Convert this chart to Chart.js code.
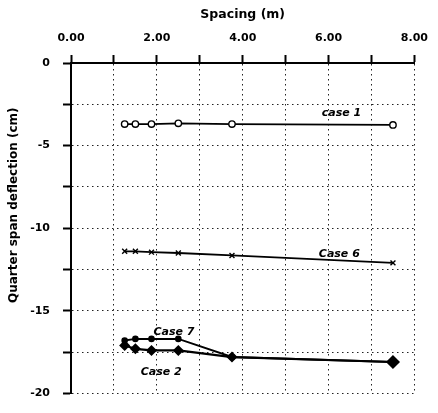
<!DOCTYPE html>
<html>
<head>
<meta charset="utf-8">
<script src="https://cdn.jsdelivr.net/npm/chart.js@4/dist/chart.umd.min.js"></script>
<style>
  html, body { margin: 0; padding: 0; background: #fff; }
  #wrap { width: 438px; height: 413px; }
</style>
</head>
<body>
<div id="wrap"><canvas id="chart"></canvas></div>
<script>
// spacing values (m)
const spacing = [1.25, 1.5, 1.875, 2.5, 3.75, 7.5];

// quarter span deflection (cm)
const case1 = [-3.7, -3.7, -3.7, -3.65, -3.7, -3.75];
const case6 = [-11.4, -11.4, -11.45, -11.5, -11.65, -12.1];
const case7 = [-16.8, -16.7, -16.7, -16.7, -17.8, -18.1];
const case2 = [-17.1, -17.3, -17.4, -17.4, -17.8, -18.1];

const caseNames = ['case 1', 'Case 6', 'Case 7', 'Case 2'];

// where the case names sit, in data units
const caseLabelPos = [
  { x: 6.3, y: -3.05 },
  { x: 6.25, y: -11.6 },
  { x: 2.4, y: -16.3 },
  { x: 2.1, y: -18.7 },
];

const toPoints = ys => spacing.map((x, i) => ({ x: x, y: ys[i] }));

// draws the case names next to their lines
const caseLabels = {
  id: 'caseLabels',
  afterDatasetsDraw(chart) {
    const { ctx, scales } = chart;
    ctx.save();
    ctx.fillStyle = '#000';
    ctx.font = 'italic bold 11px "DejaVu Sans"';
    ctx.textAlign = 'center';
    ctx.textBaseline = 'middle';
    caseNames.forEach((name, i) => {
      const p = caseLabelPos[i];
      ctx.fillText(name, scales.x.getPixelForValue(p.x), scales.y.getPixelForValue(p.y));
    });
    ctx.restore();
  },
};

const lineBase = {
  borderColor: '#000',
  backgroundColor: '#000',
  pointBorderColor: '#000',
  tension: 0,
  fill: false,
};

const config = {
  type: 'line',
  data: {
    datasets: [
      {
        ...lineBase,
        label: caseNames[0],
        data: toPoints(case1),
        borderWidth: 1.8,
        pointStyle: 'circle',
        pointRadius: 3.2,
        pointBackgroundColor: '#fff',
        pointBorderWidth: 1.4,
      },
      {
        ...lineBase,
        label: caseNames[1],
        data: toPoints(case6),
        borderWidth: 1.8,
        pointStyle: 'crossRot',
        pointRadius: 3.5,
        pointBorderWidth: 1.4,
      },
      {
        ...lineBase,
        label: caseNames[2],
        data: toPoints(case7),
        borderWidth: 2,
        pointStyle: 'circle',
        pointRadius: 2.3,
        pointBackgroundColor: '#000',
      },
      {
        ...lineBase,
        label: caseNames[3],
        data: toPoints(case2),
        borderWidth: 2.2,
        pointStyle: 'rectRot',
        pointRadius: [4, 4, 4, 4, 4, 5.5],
        pointBackgroundColor: '#000',
      },
    ],
  },
  options: {
    responsive: true,
    maintainAspectRatio: false,
    animation: false,
    layout: { padding: { left: 0, top: 0, right: 15, bottom: 8 } },
    plugins: {
      legend: { display: false },
      tooltip: { enabled: false },
    },
    scales: {
      x: {
        type: 'linear',
        position: 'top',
        min: 0,
        max: 8,
        afterFit: scale => { scale.height = 63; },
        title: {
          display: true,
          text: 'Spacing (m)',
          color: '#000',
          font: { family: 'DejaVu Sans', size: 12.5, weight: 'bold' },
          padding: { top: 7, bottom: 0 },
        },
        ticks: {
          stepSize: 1,
          autoSkip: false,
          maxRotation: 0,
          color: '#000',
          padding: 10,
          font: { family: 'DejaVu Sans', size: 11, weight: 'bold' },
          callback: v => (v % 2 === 0 ? v.toFixed(2) : ''),
        },
        grid: {
          color: '#222',
          lineWidth: 1,
          tickLength: 8,
          tickColor: '#000',
          tickWidth: 2,
        },
        border: { display: true, color: '#000', width: 2, dash: [1.5, 3.5] },
      },
      y: {
        type: 'linear',
        min: -20,
        max: 0,
        afterFit: scale => { scale.width = 71; },
        title: {
          display: true,
          text: '           Quarter span deflection (cm)',
          color: '#000',
          font: { family: 'DejaVu Sans', size: 12, weight: 'bold' },
          padding: { top: 7, bottom: 0 },
        },
        ticks: {
          stepSize: 2.5,
          autoSkip: false,
          color: '#000',
          padding: 13,
          font: { family: 'DejaVu Sans', size: 11, weight: 'bold' },
          callback: v => (v % 5 === 0 ? String(v) : ''),
        },
        grid: {
          color: '#222',
          lineWidth: 1,
          tickLength: 8,
          tickColor: '#000',
          tickWidth: 2,
        },
        border: { display: true, color: '#000', width: 2, dash: [1.5, 3.5] },
      },
    },
  },
  plugins: [caseLabels],
};

const chart = new Chart('chart', config);
</script>
</body>
</html>
